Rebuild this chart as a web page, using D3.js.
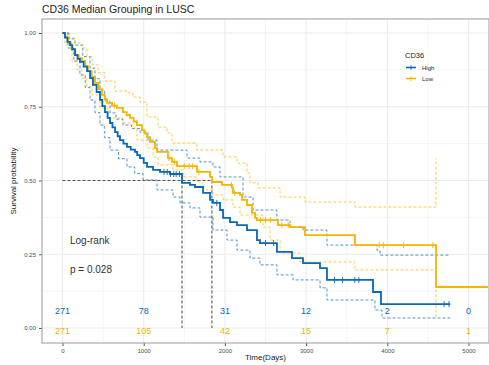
<!DOCTYPE html>
<html>
<head>
<meta charset="utf-8">
<script src="https://cdn.jsdelivr.net/npm/d3@7"></script>
<style>
  body { margin: 0; background: #fff; }
  text { font-family: "Liberation Sans", Arial, sans-serif; }
</style>
</head>
<body>
<div id="chart"></div>
<script>
// survival steps: [day, survival after drop]
const highCurve = [[0,1],[30,0.985],[60,0.970],[92,0.959],[120,0.945],[154,0.925],[185,0.912],[215,0.902],[260,0.886],[302,0.871],[340,0.847],[375,0.824],[420,0.800],[462,0.773],[490,0.752],[523,0.732],[555,0.712],[585,0.695],[615,0.680],[647,0.664],[680,0.650],[708,0.637],[750,0.625],[794,0.614],[840,0.605],[893,0.597],[920,0.586],[954,0.576],[1000,0.560],[1041,0.546],[1115,0.536],[1201,0.529],[1324,0.522],[1472,0.492],[1570,0.485],[1632,0.478],[1731,0.458],[1817,0.434],[1853,0.424],[1940,0.400],[1977,0.373],[2063,0.359],[2149,0.349],[2272,0.332],[2395,0.298],[2432,0.288],[2641,0.258],[2826,0.237],[2962,0.220],[3171,0.203],[3257,0.163],[3824,0.122],[3922,0.081],[4775,0.081]];
const highUpper = [[0,1],[80,0.980],[154,0.959],[250,0.920],[339,0.881],[400,0.845],[462,0.807],[520,0.770],[585,0.729],[660,0.708],[745,0.688],[850,0.676],[954,0.664],[1053,0.637],[1164,0.603],[1533,0.576],[1693,0.563],[1853,0.546],[1940,0.512],[2223,0.444],[2346,0.400],[2641,0.366],[2802,0.342],[2962,0.332],[3257,0.281],[3872,0.264],[3910,0.247],[4775,0.247]];
const highLower = [[0,1],[68,0.949],[140,0.905],[215,0.858],[280,0.815],[339,0.773],[400,0.730],[462,0.688],[520,0.645],[585,0.603],[690,0.574],[794,0.546],[890,0.524],[991,0.502],[1164,0.468],[1361,0.444],[1447,0.424],[1570,0.407],[1693,0.376],[1853,0.332],[2026,0.298],[2149,0.264],[2309,0.237],[2432,0.214],[2641,0.180],[2839,0.163],[3171,0.136],[3257,0.095],[3848,0.061],[3934,0.034],[4775,0.034]];
const lowCurve = [[0,1],[35,0.983],[68,0.966],[110,0.945],[154,0.925],[200,0.915],[240,0.905],[280,0.888],[314,0.871],[360,0.851],[400,0.831],[445,0.810],[486,0.790],[520,0.776],[548,0.763],[610,0.754],[671,0.746],[745,0.732],[790,0.722],[831,0.712],[875,0.700],[917,0.688],[979,0.671],[1010,0.659],[1041,0.647],[1078,0.631],[1139,0.610],[1164,0.597],[1299,0.576],[1349,0.563],[1410,0.549],[1656,0.529],[1817,0.512],[1841,0.495],[1964,0.485],[2087,0.475],[2100,0.458],[2186,0.451],[2211,0.434],[2272,0.417],[2334,0.390],[2371,0.373],[2395,0.366],[2654,0.349],[2802,0.342],[2986,0.315],[3602,0.281],[4600,0.139],[5240,0.139]];
const lowUpper = [[0,1],[68,0.983],[150,0.966],[240,0.949],[300,0.920],[363,0.892],[440,0.865],[523,0.837],[646,0.803],[794,0.797],[868,0.783],[954,0.766],[1041,0.715],[1176,0.681],[1287,0.661],[1349,0.627],[1656,0.603],[1977,0.580],[2149,0.559],[2272,0.525],[2309,0.492],[2408,0.475],[2679,0.444],[2986,0.427],[3602,0.410],[4600,0.576]];
const lowLower = [[0,1],[31,0.959],[117,0.905],[180,0.876],[240,0.847],[300,0.818],[363,0.790],[462,0.746],[560,0.712],[745,0.695],[856,0.678],[917,0.637],[1041,0.610],[1115,0.580],[1176,0.553],[1361,0.536],[1484,0.512],[1656,0.495],[1730,0.468],[1853,0.451],[1977,0.434],[2100,0.410],[2186,0.383],[2469,0.342],[2556,0.298],[2679,0.254],[2925,0.224],[3602,0.197],[4600,0.037]];

const highCensor = [1250,1290,1330,1370,1400,1440,1900,2500,2600,3350,3450,3600,3650,4700,4760];
const lowCensor = [640,1310,1380,1500,1560,1600,1680,2080,2120,2440,2500,2560,2700,2780,3900,3950,4200,4560];

const medians = [1472, 1840];

const riskTimes = [0, 1000, 2000, 3000, 4000, 5000];
const riskHigh = [271, 78, 31, 12, 2, 0];
const riskLow = [271, 105, 42, 15, 7, 1];

const xTicks = [0, 1000, 2000, 3000, 4000, 5000];
const yTicks = [0, 0.25, 0.5, 0.75, 1];

const blue = "#0868B8", gold = "#F5B400";

const W = 489, H = 365;
const panel = {left: 42, right: 489, top: 19, bottom: 343};

const svg = d3.select("#chart").append("svg")
  .attr("width", W).attr("height", H);

const x = d3.scaleLinear().domain([0, 5000]).range([62.5, 468.5]);
const y = d3.scaleLinear().domain([0, 1]).range([328, 33]);

// title
svg.append("text").attr("x", 42).attr("y", 13)
  .attr("font-size", 10.5).attr("fill", "#222")
  .text("CD36 Median Grouping in LUSC");

// panel background + grid
svg.append("rect")
  .attr("x", panel.left).attr("y", panel.top)
  .attr("width", panel.right - panel.left).attr("height", panel.bottom - panel.top)
  .attr("fill", "#fff");

const grid = svg.append("g");
const minorX = d3.range(500, 5500, 1000);
const minorY = [0.125, 0.375, 0.625, 0.875];
grid.selectAll(".mx").data(minorX).enter().append("line")
  .attr("x1", d => x(d)).attr("x2", d => x(d))
  .attr("y1", panel.top).attr("y2", panel.bottom)
  .attr("stroke", "#f2f2f2").attr("stroke-width", 0.8);
grid.selectAll(".my").data(minorY).enter().append("line")
  .attr("y1", d => y(d)).attr("y2", d => y(d))
  .attr("x1", panel.left).attr("x2", panel.right)
  .attr("stroke", "#f2f2f2").attr("stroke-width", 0.8);
grid.selectAll(".gx").data(xTicks).enter().append("line")
  .attr("x1", d => x(d)).attr("x2", d => x(d))
  .attr("y1", panel.top).attr("y2", panel.bottom)
  .attr("stroke", "#ebebeb").attr("stroke-width", 1.1);
grid.selectAll(".gy").data(yTicks).enter().append("line")
  .attr("y1", d => y(d)).attr("y2", d => y(d))
  .attr("x1", panel.left).attr("x2", panel.right)
  .attr("stroke", "#ebebeb").attr("stroke-width", 1.1);

// axes
const xAxis = svg.append("g")
  .attr("transform", "translate(0," + panel.bottom + ")")
  .call(d3.axisBottom(x).tickValues(xTicks).tickFormat(d3.format("d")).tickSize(3));
const yAxis = svg.append("g")
  .attr("transform", "translate(" + panel.left + ",0)")
  .call(d3.axisLeft(y).tickValues(yTicks).tickFormat(d3.format(".2f")).tickSize(3));
[xAxis, yAxis].forEach(a => {
  a.select(".domain").remove();
  a.selectAll(".tick line").attr("stroke", "#555");
  a.selectAll(".tick text").attr("fill", "#4d4d4d").attr("font-size", 6)
    .style("font-family", "Liberation Sans, Arial, sans-serif");
});

// panel border
svg.append("rect")
  .attr("x", panel.left).attr("y", panel.top)
  .attr("width", panel.right - panel.left).attr("height", panel.bottom - panel.top)
  .attr("fill", "none").attr("stroke", "#9a9a9a").attr("stroke-width", 1);

const step = d3.line().x(d => x(d[0])).y(d => y(d[1])).curve(d3.curveStepAfter);

// confidence bands (dashed)
[[highUpper, blue], [highLower, blue], [lowUpper, gold], [lowLower, gold]].forEach(([d, c]) => {
  svg.append("path").datum(d).attr("d", step)
    .attr("fill", "none").attr("stroke", c).attr("stroke-width", 1)
    .attr("stroke-opacity", 0.7).attr("stroke-dasharray", "3,2");
});

// median lines
svg.append("line")
  .attr("x1", x(0)).attr("x2", x(d3.max(medians)))
  .attr("y1", y(0.5)).attr("y2", y(0.5))
  .attr("stroke", "#555").attr("stroke-width", 1.1).attr("stroke-dasharray", "3,2");
svg.selectAll(".med").data(medians).enter().append("line")
  .attr("x1", d => x(d)).attr("x2", d => x(d))
  .attr("y1", y(0.5)).attr("y2", y(0))
  .attr("stroke", "#555").attr("stroke-width", 1.1).attr("stroke-dasharray", "3,2");

// survival curves
function survAt(curve, t) {
  let s = curve[0][1];
  for (const p of curve) { if (p[0] <= t) s = p[1]; }
  return s;
}
[[lowCurve, lowCensor, gold], [highCurve, highCensor, blue]].forEach(([d, cens, c]) => {
  svg.append("path").datum(d).attr("d", step)
    .attr("fill", "none").attr("stroke", c).attr("stroke-width", 1.8);
  svg.selectAll(null).data(cens).enter().append("line")
    .attr("x1", t => x(t)).attr("x2", t => x(t))
    .attr("y1", t => y(survAt(d, t)) - 3).attr("y2", t => y(survAt(d, t)) + 3)
    .attr("stroke", c).attr("stroke-width", 0.9);
});

// risk table numbers
svg.selectAll(".rh").data(riskTimes).enter().append("text")
  .attr("x", d => x(d)).attr("y", y(0.058) + 3.5)
  .attr("text-anchor", "middle").attr("font-size", 9).attr("fill", blue)
  .text((d, i) => riskHigh[i]);
svg.selectAll(".rl").data(riskTimes).enter().append("text")
  .attr("x", d => x(d)).attr("y", y(-0.007) + 3.5)
  .attr("text-anchor", "middle").attr("font-size", 9).attr("fill", gold)
  .text((d, i) => riskLow[i]);

// log-rank annotation
svg.append("text").attr("x", 70).attr("y", 244).attr("font-size", 10).attr("fill", "#333").text("Log-rank");
svg.append("text").attr("x", 70).attr("y", 273).attr("font-size", 10).attr("fill", "#333").text("p = 0.028");

// axis titles
svg.append("text").attr("transform", "translate(16," + ((panel.top + panel.bottom) / 2) + ") rotate(-90)")
  .attr("text-anchor", "middle").attr("font-size", 8).attr("fill", "#222").text("Survival probability");
svg.append("text").attr("x", (panel.left + panel.right) / 2).attr("y", 360)
  .attr("text-anchor", "middle").attr("font-size", 8).attr("fill", "#222").text("Time(Days)");

// legend
const lg = svg.append("g").attr("transform", "translate(405,0)");
lg.append("text").attr("x", 0).attr("y", 58).attr("font-size", 7.5).attr("fill", "#222").text("CD36");
[["High", blue], ["Low", gold]].forEach(([name, c], i) => {
  const yy = 67.5 + i * 11;
  lg.append("line").attr("x1", 1).attr("x2", 11).attr("y1", yy).attr("y2", yy)
    .attr("stroke", c).attr("stroke-width", 1.6);
  lg.append("line").attr("x1", 6).attr("x2", 6).attr("y1", yy - 2.5).attr("y2", yy + 2.5)
    .attr("stroke", c).attr("stroke-width", 0.8);
  lg.append("text").attr("x", 17).attr("y", yy + 2.2).attr("font-size", 6).attr("fill", "#222").text(name);
});
</script>
</body>
</html>
